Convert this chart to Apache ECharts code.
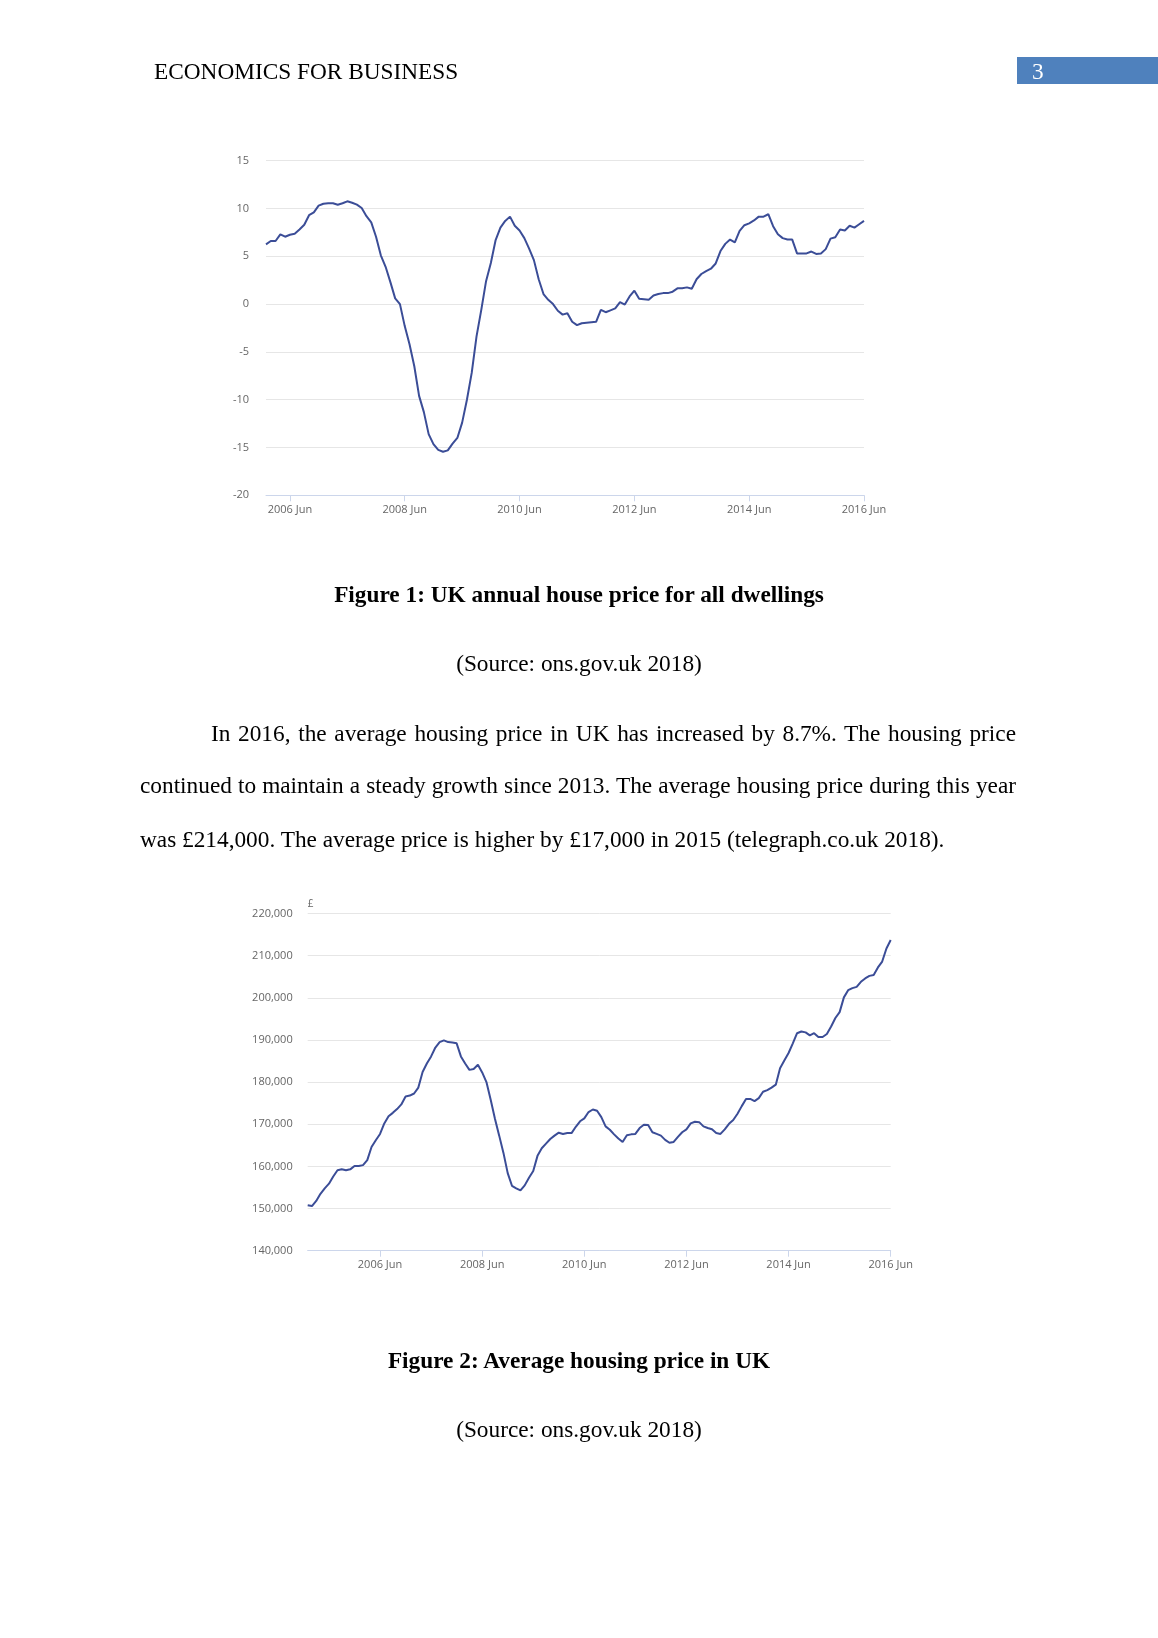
<!DOCTYPE html>
<html>
<head>
<meta charset="utf-8">
<script src="https://cdn.jsdelivr.net/npm/echarts@6/dist/echarts.min.js"></script>
<style>
html,body{margin:0;padding:0;background:#fff;}
#page{position:relative;width:1158px;height:1638px;overflow:hidden;font-family:"Liberation Serif","Times New Roman",serif;color:#000;}
#chart{position:absolute;left:0;top:0;width:1158px;height:1638px;}
.t{position:absolute;font-size:23.3px;line-height:30px;height:30px;white-space:nowrap;z-index:2;}
.c{left:0;width:1158px;text-align:center;}
.b{font-weight:bold;}
.j{left:140px;width:876px;text-align:justify;text-align-last:justify;}
#hdrbox{position:absolute;left:1017px;top:57px;width:141px;height:27px;background:#4f81bd;z-index:1;}
</style>
</head>
<body>
<div id="page">
  <div id="chart"></div>
  <div class="t" style="left:154px;top:56px;">ECONOMICS FOR BUSINESS</div>
  <div id="hdrbox"></div>
  <div class="t" style="left:1032px;top:56px;color:#fff;">3</div>
  <div class="t c b" style="top:579px;">Figure 1: UK annual house price for all dwellings</div>
  <div class="t c" style="top:648px;">(Source: ons.gov.uk 2018)</div>
  <div class="t j" style="top:718px;padding-left:71px;width:805px;">In 2016, the average housing price in UK has increased by 8.7%. The housing price</div>
  <div class="t j" style="top:770px;">continued to maintain a steady growth since 2013. The average housing price during this year</div>
  <div class="t" style="left:140px;top:824px;">was £214,000. The average price is higher by £17,000 in 2015 (telegraph.co.uk 2018).</div>
  <div class="t c b" style="top:1345px;">Figure 2: Average housing price in UK</div>
  <div class="t c" style="top:1414px;">(Source: ons.gov.uk 2018)</div>
</div>
<script>
// ---- Data ----
var monthNames = ['Jan','Feb','Mar','Apr','May','Jun','Jul','Aug','Sep','Oct','Nov','Dec'];

// Figure 1: annual % change, monthly Jan 2006 - Jun 2016
var annualChange = [
  6.25, 6.6, 6.6, 7.3, 7.05, 7.25, 7.35, 7.8, 8.3, 9.3, 9.6, 10.3,
  10.5, 10.55, 10.55, 10.4, 10.55, 10.75, 10.6, 10.4, 10.05, 9.2, 8.55, 7.05,
  5.1, 3.9, 2.3, 0.6, 0.0, -2.3, -4.2, -6.5, -9.6, -11.3, -13.6, -14.65,
  -15.25, -15.45, -15.3, -14.6, -14.0, -12.4, -10.0, -7.2, -3.4, -0.6, 2.4, 4.3,
  6.7, 8.0, 8.7, 9.15, 8.2, 7.7, 6.9, 5.8, 4.6, 2.6, 1.05, 0.45,
  0.0, -0.7, -1.1, -0.95, -1.85, -2.2, -2.0, -1.95, -1.9, -1.85, -0.6, -0.85,
  -0.65, -0.45, 0.2, -0.05, 0.8, 1.4, 0.55, 0.5, 0.45, 0.9, 1.05, 1.15,
  1.15, 1.3, 1.65, 1.65, 1.75, 1.6, 2.6, 3.15, 3.45, 3.7, 4.25, 5.55,
  6.3, 6.75, 6.45, 7.65, 8.25, 8.45, 8.75, 9.15, 9.15, 9.4, 8.15, 7.3,
  6.9, 6.75, 6.75, 5.3, 5.3, 5.3, 5.5, 5.25, 5.3, 5.75, 6.85, 7.0,
  7.8, 7.7, 8.2, 8.0, 8.35, 8.7
];
var changeStartYear = 2006;
var changeTicks = [-20, -15, -10, -5, 0, 5, 10, 15];

// Figure 2: average price (£), monthly Jan 2005 - Jun 2016
var avgPrice = [
  150800,150600,151800,153500,154800,155900,157600,159100,159300,159100,159300,160100,
  160100,160300,161500,164600,166200,167700,170200,171900,172700,173600,174700,176600,
  176800,177300,178700,182400,184400,186100,188200,189500,189900,189500,189400,189200,
  186100,184400,182900,183100,184100,182300,180000,175800,171300,167300,163200,158400,
  155400,154800,154300,155500,157300,158900,162500,164300,165400,166500,167300,168000,
  167700,167900,167900,169400,170700,171400,172900,173500,173200,171700,169500,168700,
  167600,166600,165800,167400,167600,167700,169100,169900,169800,168100,167700,167300,
  166300,165600,165800,167000,168100,168800,170200,170600,170500,169500,169100,168800,
  167900,167700,168800,170100,171000,172500,174300,176000,176000,175500,176200,177700,
  178100,178700,179400,183300,185100,186900,189200,191600,192000,191800,191100,191600,
  190700,190700,191400,193200,195200,196600,200100,201800,202300,202600,203800,204600,
  205200,205400,207200,208600,211700,213700
];
var priceStartYear = 2005;
var priceTicks = [140000,150000,160000,170000,180000,190000,200000,210000,220000];

// x-axis tick labels shown
var xTickLabels = ['2006 Jun','2008 Jun','2010 Jun','2012 Jun','2014 Jun','2016 Jun'];

function makeCats(startYear, n) {
  var out = [];
  for (var i = 0; i < n; i++) {
    out.push((startYear + Math.floor(i / 12)) + ' ' + monthNames[i % 12]);
  }
  return out;
}
var changeCats = makeCats(changeStartYear, annualChange.length);
var priceCats = makeCats(priceStartYear, avgPrice.length);

function showIdx(cats) {
  return function (idx) { return xTickLabels.indexOf(cats[idx]) >= 0; };
}

var gridCol = '#e6e6e6';
var axisCol = '#ccd6eb';
var labelCol = '#666666';
var lineCol = '#3b4d97';
var fnt = '"Open Sans", "Noto Sans", sans-serif';

var chart = echarts.init(document.getElementById('chart'), null, {renderer: 'canvas'});
chart.setOption({
  animation: false,
  backgroundColor: 'transparent',
  grid: [
    {left: 266, top: 160.7, width: 598, height: 334.6, containLabel: false},
    {left: 307.7, top: 913.5, width: 583, height: 337.2, containLabel: false}
  ],
  xAxis: [
    {
      type: 'category', gridIndex: 0, data: changeCats, boundaryGap: false,
      axisLine: {onZero: false, lineStyle: {color: axisCol, width: 1}},
      axisTick: {show: true, interval: showIdx(changeCats), length: 6, lineStyle: {color: axisCol}},
      axisLabel: {interval: showIdx(changeCats), color: labelCol, fontSize: 11, fontFamily: fnt, margin: 9},
      splitLine: {show: false}
    },
    {
      type: 'category', gridIndex: 1, data: priceCats, boundaryGap: false,
      axisLine: {onZero: false, lineStyle: {color: axisCol, width: 1}},
      axisTick: {show: true, interval: showIdx(priceCats), length: 6, lineStyle: {color: axisCol}},
      axisLabel: {interval: showIdx(priceCats), color: labelCol, fontSize: 11, fontFamily: fnt, margin: 9},
      splitLine: {show: false}
    }
  ],
  yAxis: [
    {
      type: 'value', gridIndex: 0,
      min: changeTicks[0], max: changeTicks[changeTicks.length - 1], interval: 5,
      axisLine: {show: false}, axisTick: {show: false},
      axisLabel: {color: labelCol, fontSize: 11, fontFamily: fnt, margin: 17},
      splitLine: {lineStyle: {color: gridCol, width: 1}}
    },
    {
      type: 'value', gridIndex: 1,
      min: priceTicks[0], max: priceTicks[priceTicks.length - 1], interval: 10000,
      name: '£', nameLocation: 'end', nameGap: 4,
      nameTextStyle: {color: labelCol, fontSize: 10, fontFamily: fnt, align: 'left', padding: [0, 0, 0, 0]},
      axisLine: {show: false}, axisTick: {show: false},
      axisLabel: {color: labelCol, fontSize: 11, fontFamily: fnt, margin: 15,
        formatter: function (v) { return v.toLocaleString('en-GB'); }},
      splitLine: {lineStyle: {color: gridCol, width: 1}}
    }
  ],
  series: [
    {type: 'line', xAxisIndex: 0, yAxisIndex: 0, data: annualChange, showSymbol: false, symbol: 'none',
     lineStyle: {color: lineCol, width: 2}, itemStyle: {color: lineCol}},
    {type: 'line', xAxisIndex: 1, yAxisIndex: 1, data: avgPrice, showSymbol: false, symbol: 'none',
     lineStyle: {color: lineCol, width: 2}, itemStyle: {color: lineCol}}
  ]
});
</script>
</body>
</html>
